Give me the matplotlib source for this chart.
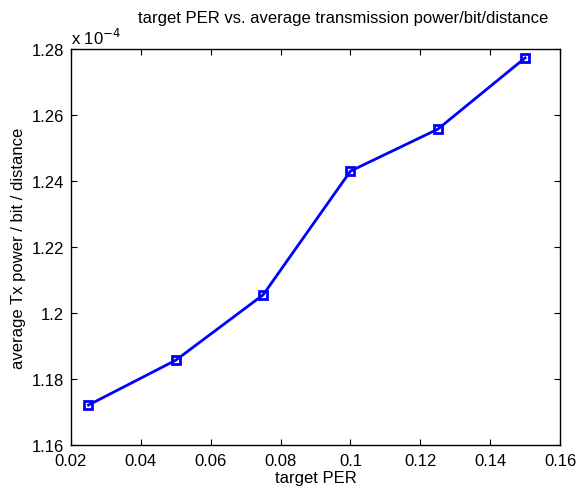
import matplotlib.pyplot as plt
from matplotlib.ticker import FixedLocator

plt.rcParams['font.family'] = ['Liberation Sans', 'DejaVu Sans']

# target PER values and average Tx power / bit / distance (units of 1e-4)
target_per = [0.025, 0.05, 0.075, 0.1, 0.125, 0.15]
tx_power = [1.1721, 1.1857, 1.2055, 1.2430, 1.2557, 1.2773]

fig = plt.figure(figsize=(5.78, 4.89), dpi=100)
ax = fig.add_axes([0.1228, 0.0879, 0.8462, 0.8099])

ax.plot(target_per, tx_power, color='#0000ff', linewidth=2,
        marker='s', markersize=6, markerfacecolor='none',
        markeredgecolor='#0000ff', markeredgewidth=2)

ax.set_xlim(0.02, 0.16)
ax.set_ylim(1.16, 1.28)
ax.xaxis.set_major_locator(FixedLocator([0.02, 0.04, 0.06, 0.08, 0.1, 0.12, 0.14, 0.16]))
ax.yaxis.set_major_locator(FixedLocator([1.16, 1.18, 1.2, 1.22, 1.24, 1.26, 1.28]))
ax.set_xticklabels(['0.02', '0.04', '0.06', '0.08', '0.1', '0.12', '0.14', '0.16'])
ax.set_yticklabels(['1.16', '1.18', '1.2', '1.22', '1.24', '1.26', '1.28'])
ax.tick_params(direction='in', top=True, right=True, labelsize=12, length=4, width=0.8)
ax.tick_params(axis='x', pad=6)
ax.tick_params(axis='y', pad=5)
for s in ax.spines.values():
    s.set_linewidth(1)

ax.set_xlabel('target PER', fontsize=12, labelpad=1)
ax.set_ylabel('average Tx power / bit / distance', fontsize=12, labelpad=4)
ax.text(0.0, 1.005, r'x 10$^{-4}$', transform=ax.transAxes, fontsize=12,
        ha='left', va='bottom')
fig.text(343 / 578, 1 - 18 / 489, 'target PER vs. average transmission power/bit/distance',
         fontsize=12, ha='center', va='center')

fig.savefig('out.png', dpi=100)
